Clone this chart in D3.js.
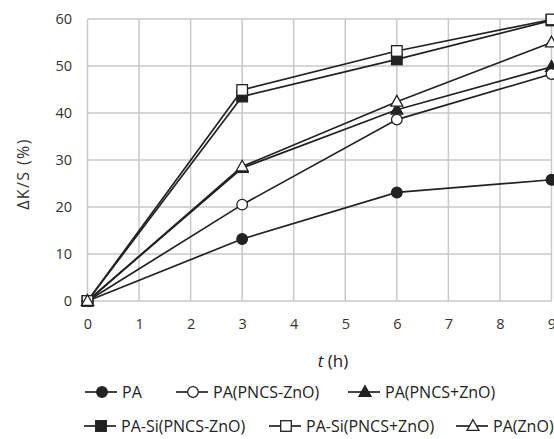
<!DOCTYPE html>
<html><head><meta charset="utf-8">
<script src="https://cdn.jsdelivr.net/npm/d3@7"></script>
<style>body{margin:0;background:#fff}svg{display:block}</style>
</head><body>
<svg id="c" width="554" height="439"></svg>
<script>
const times = [0, 3, 6, 9];
const seriesNames = ["PA","PA(PNCS-ZnO)","PA(PNCS+ZnO)","PA-Si(PNCS-ZnO)","PA-Si(PNCS+ZnO)","PA(ZnO)"];
const PA = [0, 13.2, 23.1, 25.8];
const PA_PNCS_minus = [0, 20.5, 38.6, 48.3];
const PA_PNCS_plus = [0, 28.3, 40.7, 49.8];
const PASi_PNCS_minus = [0, 43.5, 51.4, 59.7];
const PASi_PNCS_plus = [0, 44.9, 53.2, 59.9];
const PA_ZnO = [0, 28.6, 42.4, 55.0];
const xTicks = [0,1,2,3,4,5,6,7,8,9];
const yTicks = [0,10,20,30,40,50,60];

const series = [
  {name: seriesNames[0], values: PA, shape: "circle", fill: true},
  {name: seriesNames[1], values: PA_PNCS_minus, shape: "circle", fill: false},
  {name: seriesNames[2], values: PA_PNCS_plus, shape: "triangle", fill: true},
  {name: seriesNames[3], values: PASi_PNCS_minus, shape: "square", fill: true},
  {name: seriesNames[4], values: PASi_PNCS_plus, shape: "square", fill: false},
  {name: seriesNames[5], values: PA_ZnO, shape: "triangle", fill: false}
];

const svg = d3.select("#c");
const font = "'Open Sans', sans-serif";
const x = d3.scaleLinear().domain([0, 9]).range([87.5, 551.5]);
const y = d3.scaleLinear().domain([0, 60]).range([301, 19]);
const grid = "#c9c9c9", ink = "#222";

// gridlines
const g = svg.append("g");
g.selectAll(".vg").data(xTicks).join("line")
  .attr("x1", d => x(d)).attr("x2", d => x(d)).attr("y1", y(0)).attr("y2", y(60))
  .attr("stroke", grid).attr("stroke-width", 1.5);
g.selectAll(".hg").data(yTicks).join("line")
  .attr("x1", x(0)).attr("x2", x(9)).attr("y1", d => y(d)).attr("y2", d => y(d))
  .attr("stroke", grid).attr("stroke-width", 1.5);

// axes using d3 axes for labels
const xAxis = svg.append("g").attr("transform", `translate(0,${y(0)})`)
  .call(d3.axisBottom(x).tickValues(xTicks).tickSize(0).tickPadding(18).tickFormat(d3.format("d")));
const yAxis = svg.append("g").attr("transform", `translate(${x(0)},0)`)
  .call(d3.axisLeft(y).tickValues(yTicks).tickSize(0).tickPadding(15.5).tickFormat(d3.format("d")));
[xAxis, yAxis].forEach(a => {
  a.select(".domain").remove();
  a.selectAll("text").attr("font-family", font).attr("font-size", 14.5).attr("fill", "#333");
});

// axis titles
svg.append("text").attr("x", 333).attr("y", 367).attr("text-anchor", "middle")
  .attr("font-family", font).attr("font-size", 17).attr("fill", "#222")
  .html('<tspan font-style="italic">t</tspan> (h)');
svg.append("text").attr("transform", "translate(29,174) rotate(-90)").attr("text-anchor", "middle")
  .attr("font-family", font).attr("font-size", 16).attr("letter-spacing", "1.4px").attr("fill", "#333")
  .text("ΔK/S (%)");

function drawMarker(sel, s, cx, cy) {
  const fill = s.fill ? ink : "#fff";
  if (s.shape === "circle") {
    sel.append("circle").attr("cx", cx).attr("cy", cy).attr("r", 5.3)
      .attr("fill", fill).attr("stroke", ink).attr("stroke-width", 1.3);
  } else if (s.shape === "square") {
    sel.append("rect").attr("x", cx - 5.3).attr("y", cy - 5.3).attr("width", 10.6).attr("height", 10.6)
      .attr("fill", fill).attr("stroke", ink).attr("stroke-width", 1.3);
  } else {
    const r = 6.3;
    sel.append("path").attr("d", `M${cx},${cy - r}L${cx + r * 0.95},${cy + r * 0.7}L${cx - r * 0.95},${cy + r * 0.7}Z`)
      .attr("fill", fill).attr("stroke", ink).attr("stroke-width", 1.3);
  }
}

const line = d3.line().x((d, i) => x(times[i])).y(d => y(d));
const plot = svg.append("g");
series.forEach(s => {
  plot.append("path").attr("d", line(s.values)).attr("fill", "none")
    .attr("stroke", ink).attr("stroke-width", 1.7);
});
const order = [0, 2, 1, 3, 4, 5];
order.forEach(k => {
  const s = series[k];
  s.values.forEach((v, i) => drawMarker(plot, s, x(times[i]), y(v)));
});

// legend
const legendPos = [
  {x: 85, y: 392}, {x: 176, y: 392}, {x: 348, y: 392},
  {x: 84, y: 426}, {x: 269, y: 426}, {x: 456, y: 426}
];
const leg = svg.append("g");
series.forEach((s, k) => {
  const p = legendPos[k];
  const lg = leg.append("g");
  lg.append("line").attr("x1", p.x).attr("x2", p.x + 32).attr("y1", p.y).attr("y2", p.y)
    .attr("stroke", ink).attr("stroke-width", 1.7);
  drawMarker(lg, s, p.x + 17, p.y);
  lg.append("text").attr("x", p.x + 37).attr("y", p.y).attr("dy", "0.36em")
    .attr("font-family", font).attr("font-size", 16).attr("fill", "#222").text(s.name);
});
</script>
</body></html>
